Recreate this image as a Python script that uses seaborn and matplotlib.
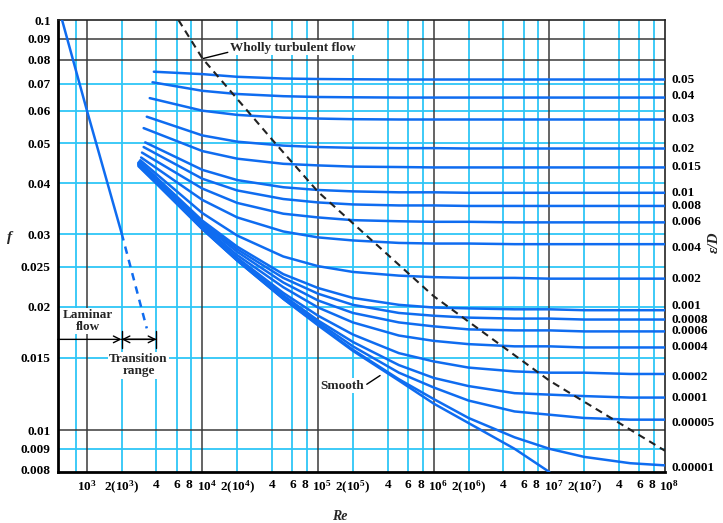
## Moody diagram - friction factor vs Reynolds number

import pandas as pd
import numpy as np
import seaborn as sns
import matplotlib
matplotlib.use('Agg')
from matplotlib import pyplot as plt
from matplotlib import transforms

# relative roughness e/D of each curve (right hand labels)
rr_labels = ['0.05', '0.04', '0.03', '0.02', '0.015', '0.01', '0.008', '0.006', '0.004',
             '0.002', '0.001', '0.0008', '0.0006', '0.0004', '0.0002', '0.0001', '0.00005', '0.00001']

# where each curve starts on the left
start_re = [3800, 3700, 3500, 3300, 3100, 3200, 3100, 3000, 2950,
            2900, 2850, 2850, 2800, 2800, 2800, 2800, 2800, 2800]
start_f = [0.0748, 0.0705, 0.0645, 0.0581, 0.0545, 0.0503, 0.0490, 0.0475, 0.0462,
           0.0455, 0.0452, 0.0450, 0.0449, 0.0448, 0.0446, 0.0445, 0.0444, 0.0442]

# Re values the curves were read at
re_grid = [1e4, 2e4, 5e4, 1e5, 2e5, 5e5, 1e6, 2e6, 5e6, 1e7, 2e7, 5e7, 1e8]

f_05 = [0.0738, 0.0727, 0.0720, 0.0718, 0.0717, 0.0716, 0.0716, 0.0716, 0.0716, 0.0716, 0.0716, 0.0716, 0.0716]
f_04 = [0.0672, 0.0660, 0.0652, 0.0649, 0.0648, 0.0647, 0.0647, 0.0647, 0.0647, 0.0647, 0.0647, 0.0647, 0.0647]
f_03 = [0.0601, 0.0587, 0.0578, 0.0575, 0.0573, 0.0572, 0.0572, 0.0572, 0.0572, 0.0572, 0.0572, 0.0572, 0.0572]
f_02 = [0.0523, 0.0505, 0.0494, 0.0490, 0.0488, 0.0487, 0.0487, 0.0486, 0.0486, 0.0486, 0.0486, 0.0486, 0.0486]
f_015 = [0.0479, 0.0459, 0.0446, 0.0442, 0.0439, 0.0438, 0.0437, 0.0437, 0.0437, 0.0437, 0.0437, 0.0437, 0.0437]
f_01 = [0.0431, 0.0407, 0.0391, 0.0385, 0.0382, 0.0380, 0.0380, 0.0379, 0.0379, 0.0379, 0.0379, 0.0379, 0.0379]
f_008 = [0.0410, 0.0384, 0.0366, 0.0359, 0.0355, 0.0353, 0.0353, 0.0352, 0.0352, 0.0352, 0.0352, 0.0352, 0.0352]
f_006 = [0.0388, 0.0358, 0.0337, 0.0330, 0.0325, 0.0323, 0.0322, 0.0322, 0.0321, 0.0321, 0.0321, 0.0321, 0.0321]
f_004 = [0.0364, 0.0330, 0.0305, 0.0295, 0.0290, 0.0286, 0.0285, 0.0285, 0.0284, 0.0284, 0.0284, 0.0284, 0.0284]
f_002 = [0.0338, 0.0298, 0.0265, 0.0251, 0.0243, 0.0238, 0.0236, 0.0235, 0.0235, 0.0234, 0.0234, 0.0234, 0.0234]
f_001 = [0.0324, 0.0280, 0.0240, 0.0222, 0.0210, 0.0202, 0.0199, 0.0198, 0.0197, 0.0197, 0.0196, 0.0196, 0.0196]
f_0008 = [0.0321, 0.0276, 0.0235, 0.0215, 0.0202, 0.0193, 0.0190, 0.0188, 0.0187, 0.0187, 0.0186, 0.0186, 0.0186]
f_0006 = [0.0318, 0.0272, 0.0229, 0.0207, 0.0193, 0.0183, 0.0179, 0.0176, 0.0175, 0.0175, 0.0174, 0.0174, 0.0174]
f_0004 = [0.0315, 0.0267, 0.0223, 0.0199, 0.0183, 0.0170, 0.0165, 0.0162, 0.0160, 0.0160, 0.0159, 0.0159, 0.0159]
f_0002 = [0.0312, 0.0263, 0.0216, 0.0190, 0.0171, 0.0154, 0.0147, 0.0142, 0.0139, 0.0138, 0.0138, 0.0137, 0.0137]
f_0001 = [0.0310, 0.0261, 0.0213, 0.0185, 0.0164, 0.0144, 0.0134, 0.0128, 0.0123, 0.0122, 0.0121, 0.0120, 0.0120]
f_00005 = [0.0310, 0.0260, 0.0211, 0.0183, 0.0160, 0.0138, 0.0127, 0.0118, 0.0111, 0.0109, 0.0107, 0.0106, 0.0106]
f_00001 = [0.0309, 0.0259, 0.0209, 0.0181, 0.0157, 0.0133, 0.0119, 0.0107, 0.0096, 0.0090, 0.0086, 0.0083, 0.0082]

curves = [f_05, f_04, f_03, f_02, f_015, f_01, f_008, f_006, f_004,
          f_002, f_001, f_0008, f_0006, f_0004, f_0002, f_0001, f_00005, f_00001]

# smooth pipe curve
smooth_re = [2800, 4000, 1e4, 2e4, 5e4, 1e5, 2e5, 5e5, 1e6, 2e6, 5e6, 1e7]
smooth_f = [0.0440, 0.0399, 0.0309, 0.0259, 0.0209, 0.0180, 0.0156, 0.0132, 0.0116, 0.0104, 0.0090, 0.0079]

# laminar line (solid) and its dashed continuation
lam_re = [611, 1000, 2000]
lam_f = [0.1, 0.0603, 0.0302]
lam_dash_re = [2000, 3300]
lam_dash_f = [0.0302, 0.0177]

# wholly turbulent boundary (dashed)
turb_re = [6200, 1e4, 4e4, 1e5, 1e6, 1e7, 1e8]
turb_f = [0.1, 0.0806, 0.0511, 0.0381, 0.0212, 0.0132, 0.0089]

# axis ticks
x_ticks = [1e3, 2e3, 4e3, 6e3, 8e3, 1e4, 2e4, 4e4, 6e4, 8e4, 1e5, 2e5, 4e5, 6e5, 8e5,
           1e6, 2e6, 4e6, 6e6, 8e6, 1e7, 2e7, 4e7, 6e7, 8e7, 1e8]
x_labels = [r'$10^3$', r'$2(10^3)$', '4', '6', '8', r'$10^4$', r'$2(10^4)$', '4', '6', '8',
            r'$10^5$', r'$2(10^5)$', '4', '6', '8', r'$10^6$', r'$2(10^6)$', '4', '6', '8',
            r'$10^7$', r'$2(10^7)$', '4', '6', '8', r'$10^8$']
y_ticks = [0.008, 0.009, 0.01, 0.015, 0.02, 0.025, 0.03, 0.04, 0.05, 0.06, 0.07, 0.08, 0.09, 0.1]
y_labels = ['0.008', '0.009', '0.01', '0.015', '0.02', '0.025', '0.03', '0.04', '0.05',
            '0.06', '0.07', '0.08', '0.09', '0.1']

cyan_x = [800, 2e3, 4e3, 6e3, 8e3, 2e4, 4e4, 6e4, 8e4, 2e5, 4e5, 6e5, 8e5,
          2e6, 4e6, 6e6, 8e6, 2e7, 4e7, 6e7, 8e7]
dark_x = [1e3, 1e4, 1e5, 1e6, 1e7]
cyan_y = [0.009, 0.015, 0.02, 0.025, 0.03, 0.04, 0.05, 0.06, 0.07]
dark_y = [0.01, 0.08, 0.09]

blue = '#0f6cf0'
cyan = '#2ec6f7'

sns.set_theme(style='white')
plt.rcParams['font.family'] = ['Liberation Serif', 'DejaVu Serif']
plt.rcParams['font.weight'] = 'bold'
plt.rcParams['mathtext.fontset'] = 'custom'
plt.rcParams['mathtext.rm'] = 'Liberation Serif:bold'
plt.rcParams['mathtext.it'] = 'Liberation Serif:italic:bold'
plt.rcParams['mathtext.bf'] = 'Liberation Serif:bold'

rows = []
for lab, r0, f0, fs in zip(rr_labels, start_re, start_f, curves):
    rows.append((lab, r0, f0))
    for r, f in zip(re_grid, fs):
        rows.append((lab, r, f))
for r, f in zip(smooth_re, smooth_f):
    rows.append(('smooth', r, f))
df = pd.DataFrame(rows, columns=['curve', 'Re', 'f'])

fig = plt.figure(figsize=(7.23, 5.23), dpi=100)
ax = fig.add_axes([0.0798, 0.0975, 0.8400, 0.8642])
ax.set_xscale('log')
ax.set_yscale('log')

for x in cyan_x:
    ax.axvline(x, color=cyan, lw=1.3, zorder=1)
for y in cyan_y:
    ax.axhline(y, color=cyan, lw=1.3, zorder=1)
for x in dark_x:
    ax.axvline(x, color='#3a3a3a', lw=1.1, zorder=1.5)
for y in dark_y:
    ax.axhline(y, color='#3a3a3a', lw=1.1, zorder=1.5)

sns.lineplot(data=df, x='Re', y='f', units='curve', estimator=None, color=blue,
             lw=1.8, legend=False, ax=ax, zorder=3)
sns.lineplot(x=lam_re, y=lam_f, color=blue, lw=1.8, ax=ax, zorder=3)
sns.lineplot(x=lam_dash_re, y=lam_dash_f, color=blue, lw=1.8, ls=(0, (3, 2.5)), ax=ax, zorder=3)
sns.lineplot(x=turb_re, y=turb_f, color='#222222', lw=1.5, ls=(0, (3.5, 2.5)), ax=ax, zorder=4)

ax.set_xlim(560, 1e8)
ax.set_ylim(0.0079, 0.1)
ax.set_xticks(x_ticks)
ax.set_xticklabels(x_labels)
ax.set_yticks(y_ticks)
ax.set_yticklabels(y_labels)
ax.minorticks_off()
ax.tick_params(axis='both', length=0, labelsize=9.5, colors='black')
ax.tick_params(axis='x', pad=5)
ax.tick_params(axis='y', pad=5)
ax.set_xlabel('')
ax.set_ylabel('')

# nudge the crowded "8" / "10^n" labels apart
for lbl in ax.get_xticklabels():
    txt = lbl.get_text()
    if txt == '8':
        dx = -2
    elif txt.startswith(r'$10^') and txt != r'$10^3$':
        dx = 4
    else:
        dx = 0
    if dx:
        lbl.set_transform(lbl.get_transform() + transforms.ScaledTranslation(dx / 100, 0, fig.dpi_scale_trans))

for side in ['top', 'right']:
    ax.spines[side].set_color('#222222')
    ax.spines[side].set_linewidth(1.2)
for side in ['left', 'bottom']:
    ax.spines[side].set_color('black')
    ax.spines[side].set_linewidth(2)

# e/D labels at right end of each curve (a few shifted a little to keep them apart)
label_shift = {'0.04': 2, '0.004': -4, '0.001': 4, '0.0002': -3, '0.00005': -3, '0.00001': -3}
for lab, fs in zip(rr_labels, curves):
    tr = ax.get_yaxis_transform() + transforms.ScaledTranslation(
        0, label_shift.get(lab, 0) / 100, fig.dpi_scale_trans)
    ax.text(1.01, fs[-1], lab, transform=tr, ha='left', va='center',
            fontsize=9.5, color='black')

box = dict(facecolor='white', edgecolor='none', pad=1)
ax.text(1026, 0.01845, 'Laminar\nflow', ha='center', va='center', fontsize=9.5,
        linespacing=1.0, bbox=box, zorder=5)
ax.text(2794, 0.01437, 'Transition\nrange', ha='center', va='center', fontsize=9.5,
        linespacing=1.0, bbox=box, zorder=5)
ax.annotate('', xy=(2000, 0.01664), xytext=(560, 0.01664),
            arrowprops=dict(arrowstyle='->', color='black', lw=1, shrinkA=0, shrinkB=0), zorder=5)
ax.annotate('', xy=(4000, 0.01664), xytext=(2000, 0.01664),
            arrowprops=dict(arrowstyle='<->', color='black', lw=1, shrinkA=0, shrinkB=0), zorder=5)
ax.annotate('', xy=(4000, 0.01664), xytext=(2000, 0.01664),
            arrowprops=dict(arrowstyle='|-|, widthA=0.5, widthB=0.5', color='black', lw=1,
                            shrinkA=0, shrinkB=0), zorder=5)

ax.text(17340, 0.0855, 'Wholly turbulent flow', ha='left', va='center', fontsize=9.5,
        bbox=box, zorder=5)
ax.annotate('', xy=(10190, 0.0806), xytext=(16560, 0.0834),
            arrowprops=dict(arrowstyle='-', color='black', lw=1, shrinkA=0, shrinkB=0), zorder=5)

ax.text(160300, 0.01282, 'Smooth', ha='center', va='center', fontsize=9.5, bbox=box, zorder=5)
ax.annotate('', xy=(343600, 0.01358), xytext=(263600, 0.01293),
            arrowprops=dict(arrowstyle='-', color='black', lw=1, shrinkA=0, shrinkB=0), zorder=5)

fig.text(10 / 723, 1 - 238 / 523, 'f', style='italic', fontsize=11, ha='center', va='center')
fig.text(714 / 723, 1 - 242 / 523, 'ε/D', style='italic', fontsize=11, ha='center', va='center',
         rotation=90)
fig.text(340 / 723, 1 - 516 / 523, 'Re', style='italic', fontsize=10, ha='center', va='center')

fig.savefig('out.png', dpi=100)
